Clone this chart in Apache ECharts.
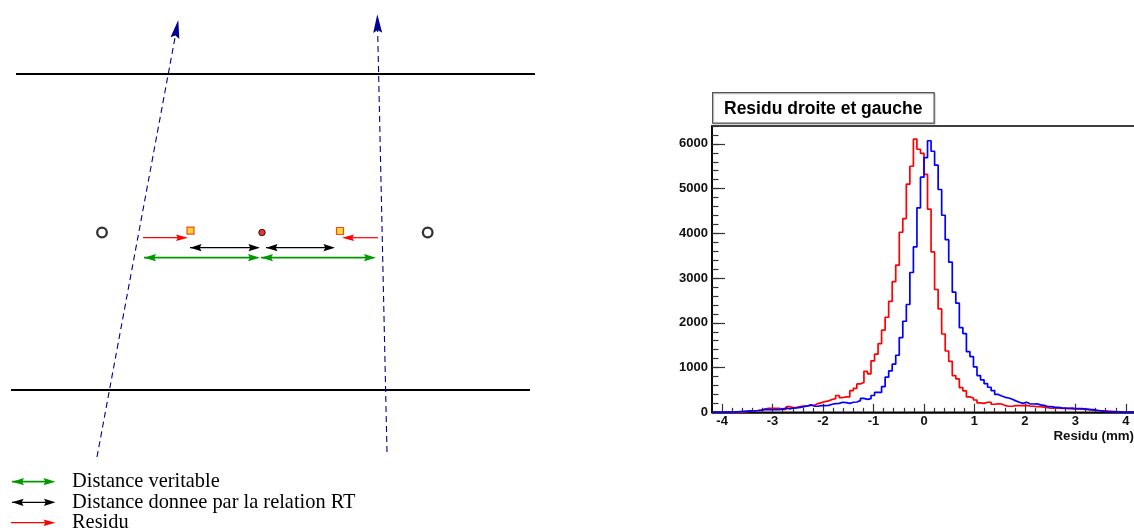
<!DOCTYPE html>
<html><head><meta charset="utf-8">
<style>html,body{margin:0;padding:0;background:#fff;overflow:hidden}#c{width:1134px;height:530px}</style>
<script src="https://cdn.jsdelivr.net/npm/echarts@6/dist/echarts.min.js"></script>
</head><body><div id="c"></div>
<script>
// --- histogram data: 120 bins of 0.07 mm from -4.2 to 4.2
const binStart = -4.2, binWidth = 0.07;
const redCounts = [
 0,0,1,2,3,3,4,5,10,15,25,30,35,45,70,
 90,90,90,90,65,65,
 125,105,110,125,140,140,155,155,
 195,215,240,255,285,305,
 375,330,345,345,485,535,635,665,
 915,860,1150,1300,1535,1835,2125,
 2480,2920,3290,4025,4330,5100,5500,
 6105,5880,5790,5320,4540,3585,2745,2310,1750,1370,
 1140,820,745,550,480,345,320,275,210,200,225,225,
 180,190,185,150,135,135,150,150,150,155,140,135,125,125,115,105,90,90,90,85,85,80,
 75,75,75,70,65,60,45,40,35,30,25,20,15,10,8,6,5,3,2];
const blueCounts = [
 2,2,3,3,5,8,10,15,20,25,30,35,40,50,
 65,60,60,60,60,
 70,95,75,95,100,110,125,140,
 165,140,135,150,150,155,180,195,200,225,215,200,
 225,230,260,310,290,305,375,445,445,575,785,925,1075,1275,1670,2035,2410,3125,3700,4570,5255,5695,
 6070,5835,5525,4980,4405,3860,3355,2685,2440,1895,1760,1355,1245,1015,820,725,640,560,485,400,365,335,320,290,
 255,225,200,225,190,185,190,165,155,130,125,115,110,100,95,90,95,80,85,80,70,60,60,45,35,20,15,12,10,8,6,5,4,3,2];
const xMajor = [-4,-3,-2,-1,0,1,2,3,4];
const xMinor = [-3.8,-3.6,-3.4,-3.2,-2.8,-2.6,-2.4,-2.2,-1.8,-1.6,-1.4,-1.2,-0.8,-0.6,-0.4,-0.2,0.2,0.4,0.6,0.8,1.2,1.4,1.6,1.8,2.2,2.4,2.6,2.8,3.2,3.4,3.6,3.8];
const yMajor = [0,1000,2000,3000,4000,5000,6000];
const histTitle = 'Residu droite et gauche';
const xTitle = 'Residu (mm)';

// --- schematic data, in the drawing's own units
const plates = [[16,74,535,74],[11,390,530,390]];
const tracks = [[97,457,178.3,20],[387,452,377.3,14.3]];
const redArrows = [[143,237.7,188,237.7],[378,237.7,342,237.7]];
const blackArrows = [[190,247.7,260,247.7],[266,247.7,335,247.7]];
const greenArrows = [[144,257.7,260,257.7],[261,257.7,376,257.7]];
const wires = [[102,232.5],[427.7,232.5]];
const centreWire = [[262,232.5]];
const hits = [[190.5,230.7],[340,231]];
const legendGreen = [[12,481.7,55.5,481.7]];
const legendBlack = [[12,502.3,55.5,502.3]];
const legendRed = [[11,522.7,55.5,522.7]];
const legendTexts = ['Distance veritable','Distance donnee par la relation RT','Residu'];

const toSteps = c => { const d = c.map((v,i)=>[binStart+i*binWidth, v]); d.push([binStart+c.length*binWidth, c[c.length-1]]); return d; };

function arrowSeries(data, color, opt){
  opt = opt || {};
  return {
    type:'custom', xAxisIndex:2, yAxisIndex:2, coordinateSystem:'cartesian2d', silent:true, clip:false,
    data: data,
    renderItem(p, api){
      const a = api.coord([api.value(0),api.value(1)]), b = api.coord([api.value(2),api.value(3)]);
      const dx=b[0]-a[0], dy=b[1]-a[1], L=Math.hypot(dx,dy), ux=dx/L, uy=dy/L;
      const hl=opt.headLen||12, hw=opt.headHalf||3.5;
      const head=(t,sx,sy)=>({type:'polygon',shape:{points:[t,[t[0]-sx*hl+(-sy)*hw,t[1]-sy*hl+sx*hw],[t[0]-sx*hl*0.85,t[1]-sy*hl*0.85],[t[0]-sx*hl-(-sy)*hw,t[1]-sy*hl-sx*hw]]},style:{fill:color}});
      const ch=[{type:'line',shape:{x1:a[0],y1:a[1],x2:b[0]-ux*hl*0.8,y2:b[1]-uy*hl*0.8},style:{stroke:color,lineWidth:opt.width||1,lineDash:opt.dash||null,fill:null}}];
      ch.push(head(b,ux,uy));
      if(opt.both) ch.push(head(a,-ux,-uy));
      return {type:'group',children:ch};
    },
    encode:{x:[0,2],y:[1,3]}
  };
}
function plainSeries(data,color,width){
  return {type:'custom',xAxisIndex:2,yAxisIndex:2,silent:true,clip:false,data,
    renderItem(p,api){const a=api.coord([api.value(0),api.value(1)]),b=api.coord([api.value(2),api.value(3)]);
      return {type:'line',shape:{x1:a[0],y1:a[1],x2:b[0],y2:b[1]},style:{stroke:color,lineWidth:width,fill:null}};},
    encode:{x:[0,2],y:[1,3]}};
}
const axisDark = '#333';
const labelFont = {fontFamily:'Liberation Sans',fontWeight:'bold',fontSize:13,color:'#111'};
const chart = echarts.init(document.getElementById('c'),null,{renderer:'canvas'});
chart.setOption({
  animation:false, backgroundColor:'#fff',
  grid:[
    {left:712,top:126,width:424,height:286.3,show:true,borderColor:'#000',borderWidth:1.6,backgroundColor:'transparent',outerBoundsMode:'none',containLabel:false},
    {left:0,top:0,width:1134,height:530,show:false,outerBoundsMode:'none'}
  ],
  xAxis:[
    {gridIndex:0,type:'value',min:-4.2,max:4.2,position:'bottom',splitLine:{show:false},
     axisLine:{show:true,onZero:false,lineStyle:{color:'#000',width:1.6}},
     axisTick:{show:true,inside:true,length:8.5,customValues:xMajor,lineStyle:{color:axisDark,width:1.2}},
     axisLabel:Object.assign({show:true,margin:3,customValues:xMajor,formatter:v=>String(v)},labelFont)},
    {gridIndex:0,type:'value',min:-4.2,max:4.2,position:'bottom',splitLine:{show:false},
     axisLine:{show:false,onZero:false},
     axisTick:{show:true,inside:true,length:4.5,customValues:xMinor,lineStyle:{color:axisDark,width:1.2}},
     axisLabel:{show:false}},
    {gridIndex:1,type:'value',min:0,max:1134,show:false}
  ],
  yAxis:[
    {gridIndex:0,type:'value',min:0,max:6400,position:'left',splitLine:{show:false},
     axisLine:{show:true,onZero:false,lineStyle:{color:'#000',width:1.6}},
     axisTick:{show:true,inside:true,length:13,customValues:yMajor,lineStyle:{color:axisDark,width:1.2}},
     axisLabel:Object.assign({show:true,margin:4,padding:[6,0,0,0],customValues:yMajor,formatter:v=>String(v)},labelFont)},
    {gridIndex:0,type:'value',min:0,max:6400,interval:200,position:'left',splitLine:{show:false},
     axisLine:{show:false,onZero:false},
     axisTick:{show:true,inside:true,length:6.5,lineStyle:{color:axisDark,width:1.2}},
     axisLabel:{show:false}},
    {gridIndex:1,type:'value',min:0,max:530,inverse:true,show:false}
  ],
  graphic:[
    {type:'rect',left:712,top:92,shape:{width:221.5,height:30.5},style:{fill:'#fff',stroke:'#555',lineWidth:1.2,shadowColor:'rgba(0,0,0,0.2)',shadowOffsetX:1,shadowOffsetY:1,shadowBlur:1},z:5},
    {type:'text',left:724,top:100.5,style:{text:histTitle,font:'bold 17.5px "Liberation Sans"',fill:'#000'},z:6},
    {type:'text',right:0,top:430,style:{text:xTitle,font:'bold 13.3px "Liberation Sans"',fill:'#111'},z:6},
    {type:'text',left:72,top:472,style:{text:legendTexts[0],font:'20.4px "Liberation Serif"',fill:'#000'},z:6},
    {type:'text',left:72,top:492.5,style:{text:legendTexts[1],font:'20.4px "Liberation Serif"',fill:'#000'},z:6},
    {type:'text',left:72,top:512.5,style:{text:legendTexts[2],font:'20.4px "Liberation Serif"',fill:'#000'},z:6}
  ],
  series:[
    {type:'line',name:'droite',xAxisIndex:0,yAxisIndex:0,step:'end',showSymbol:false,data:toSteps(redCounts),lineStyle:{color:'#ff0000',width:1.7},z:3},
    {type:'line',name:'gauche',xAxisIndex:0,yAxisIndex:0,step:'end',showSymbol:false,data:toSteps(blueCounts),lineStyle:{color:'#0000ff',width:1.7},z:4},
    plainSeries(plates,'#000',2.2),
    arrowSeries(tracks,'#000090',{dash:[6,4],width:1.1,headLen:18.5,headHalf:4.5}),
    arrowSeries(redArrows,'#ff0000',{width:1.2,headLen:12,headHalf:3.2}),
    arrowSeries(blackArrows,'#000',{width:1.2,headLen:11.5,headHalf:3.6,both:true}),
    arrowSeries(greenArrows,'#009900',{width:1.8,headLen:12,headHalf:3.6,both:true}),
    arrowSeries(legendGreen,'#009900',{width:1.8,headLen:12,headHalf:3.6,both:true}),
    arrowSeries(legendBlack,'#000',{width:1.2,headLen:11.5,headHalf:3.6,both:true}),
    arrowSeries(legendRed,'#ff0000',{width:1.2,headLen:12,headHalf:3.2}),
    {type:'scatter',xAxisIndex:2,yAxisIndex:2,silent:true,data:wires,symbol:'circle',symbolSize:9.6,itemStyle:{color:'#fff',borderColor:'#000',borderWidth:2.3}},
    {type:'scatter',xAxisIndex:2,yAxisIndex:2,silent:true,data:centreWire,symbol:'circle',symbolSize:6.5,itemStyle:{color:'#e60000',borderColor:'#000',borderWidth:1}},
    {type:'scatter',xAxisIndex:2,yAxisIndex:2,silent:true,data:hits,symbol:'rect',symbolSize:7,itemStyle:{color:'#ffcc00',borderColor:'#f02000',borderWidth:1.2}}
  ]
});
</script></body></html>
